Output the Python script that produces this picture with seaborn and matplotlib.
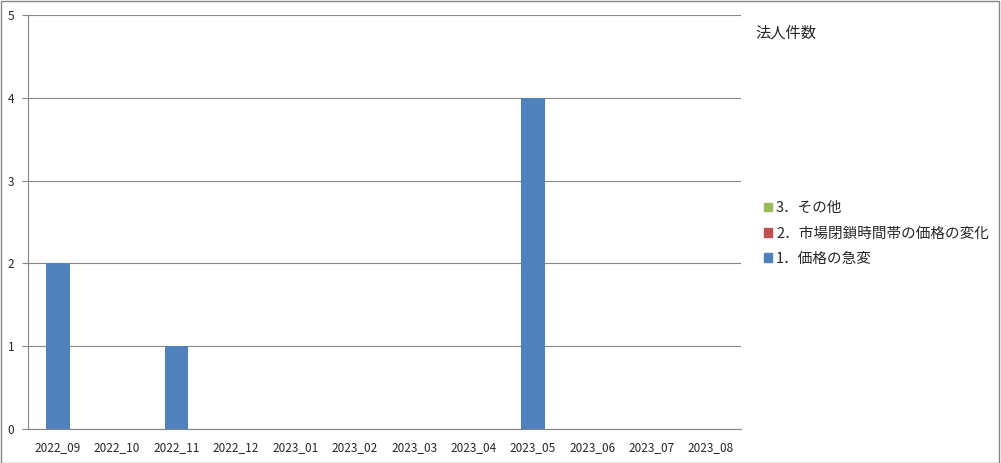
import numpy as np
import pandas as pd
import matplotlib
matplotlib.use('Agg')
import matplotlib.pyplot as plt
import seaborn as sns
from matplotlib.patches import Patch, Rectangle

months = ['2022_09', '2022_10', '2022_11', '2022_12', '2023_01', '2023_02',
          '2023_03', '2023_04', '2023_05', '2023_06', '2023_07', '2023_08']
s1 = [2, 0, 1, 0, 0, 0, 0, 0, 4, 0, 0, 0]   # 1. 価格の急変
s2 = [0, 0, 0, 0, 0, 0, 0, 0, 0, 0, 0, 0]   # 2. 市場閉鎖時間帯の価格の変化
s3 = [0, 0, 0, 0, 0, 0, 0, 0, 0, 0, 0, 0]   # 3. その他
names = ['1．価格の急変', '2．市場閉鎖時間帯の価格の変化', '3．その他']
colors = ['#4F81BD', '#C0504D', '#9BBB59']
legend_title = '法人件数'

sns.set_style('white')
plt.rcParams['font.family'] = ['Noto Sans CJK JP', 'DejaVu Sans']

df = pd.DataFrame({'month': months, 's1': s1, 's2': s2, 's3': s3})

fig = plt.figure(figsize=(10.01, 4.63), dpi=100)
ax = fig.add_axes([0.028, 0.0734, 0.712, 0.8942])

bottom = np.zeros(len(months))
for col, c in zip(['s1', 's2', 's3'], colors):
    sns.barplot(data=df, x='month', y=col, color=c, width=0.4, bottom=bottom,
                ax=ax, saturation=1, linewidth=0)
    bottom = bottom + df[col].values

ax.set_xlim(-0.5, len(months) - 0.5)
ax.set_ylim(0, 5)
ax.set_yticks(range(6))
ax.set_xlabel('')
ax.set_ylabel('')
ax.grid(axis='y', color='#868686', linewidth=0.8)
ax.set_axisbelow(True)
for s in ['top', 'right']:
    ax.spines[s].set_visible(False)
for s in ['left', 'bottom']:
    ax.spines[s].set_color('#868686')
    ax.spines[s].set_linewidth(0.8)

ax.set_xticks(np.arange(-0.5, len(months)), minor=True)
ax.tick_params(axis='x', which='major', length=0, labelsize=8.5, pad=9)
ax.tick_params(axis='x', which='minor', length=4, color='#868686', width=0.8)
ax.tick_params(axis='y', length=4, color='#868686', width=0.8, labelsize=8.5, pad=6,
               left=True)

handles = [Patch(color=c, label=n) for c, n in zip(colors, names)][::-1]
fig.legend(handles=handles, loc='upper left', bbox_to_anchor=(0.757, 0.578),
           frameon=False, fontsize=10.5, handlelength=0.55, handleheight=0.55,
           handletextpad=0.3, labelspacing=0.78, borderaxespad=0)
fig.text(0.755, 0.928, legend_title, fontsize=11, va='center')

fig.patches.append(Rectangle((0.0005, 0.001), 0.998, 0.997, transform=fig.transFigure,
                             fill=False, edgecolor='#868686', linewidth=1))

fig.savefig('out.png', dpi=100)
